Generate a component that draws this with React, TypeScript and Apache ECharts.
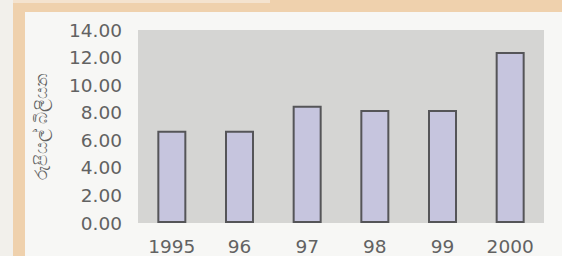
import React, { useEffect, useRef } from "react";
import * as echarts from "echarts";

const categories = ["1995", "96", "97", "98", "99", "2000"];
const values = [6.7, 6.7, 8.5, 8.2, 8.2, 12.4];
const yAxisTitle = "රුපියල් බිලියන";

export default function App() {
  const ref = useRef<HTMLDivElement>(null);
  useEffect(() => {
    if (!ref.current) return;
    const chart = echarts.init(ref.current, null, { renderer: "svg" });
    chart.setOption({
      animation: false,
      backgroundColor: "#f2f0eb",
      graphic: [
        { type: "rect", shape: { x: 13, y: 0, width: 549, height: 256 }, style: { fill: "#efd1ad" }, z: -10 },
        { type: "rect", shape: { x: 13, y: 0, width: 257, height: 3 }, style: { fill: "#f4e3cf" }, z: -9 },
        { type: "rect", shape: { x: 25, y: 12, width: 537, height: 244 }, style: { fill: "#f7f7f5" }, z: -8 },
      ],
      grid: {
        left: 138,
        right: 18,
        top: 30,
        bottom: 33,
        show: true,
        backgroundColor: "#d5d5d3",
        borderWidth: 0,
      },
      xAxis: {
        type: "category",
        data: categories,
        axisLine: { show: false },
        axisTick: { show: false },
        axisLabel: {
          color: "#626262",
          fontFamily: "DejaVu Sans",
          fontSize: 18.5,
          margin: 14,
        },
      },
      yAxis: {
        type: "value",
        min: 0,
        max: 14,
        interval: 2,
        name: yAxisTitle,
        nameLocation: "middle",
        nameRotate: 90,
        nameGap: 89,
        nameTextStyle: { color: "#626262", fontSize: 17, fontFamily: "Noto Sans" },
        axisLine: { show: false },
        axisTick: { show: false },
        splitLine: { show: false },
        axisLabel: {
          color: "#626262",
          fontFamily: "DejaVu Sans",
          fontSize: 18.5,
          margin: 16,
          formatter: (v: number) => v.toFixed(2),
        },
      },
      series: [
        {
          type: "bar",
          data: values,
          barWidth: 29,
          itemStyle: {
            color: "#c6c5de",
            borderColor: "#555558",
            borderWidth: 2,
          },
        },
      ],
    });
    return () => chart.dispose();
  }, []);
  return <div ref={ref} style={{ width: 562, height: 256, position: "fixed", left: 0, top: 0 }} />;
}
